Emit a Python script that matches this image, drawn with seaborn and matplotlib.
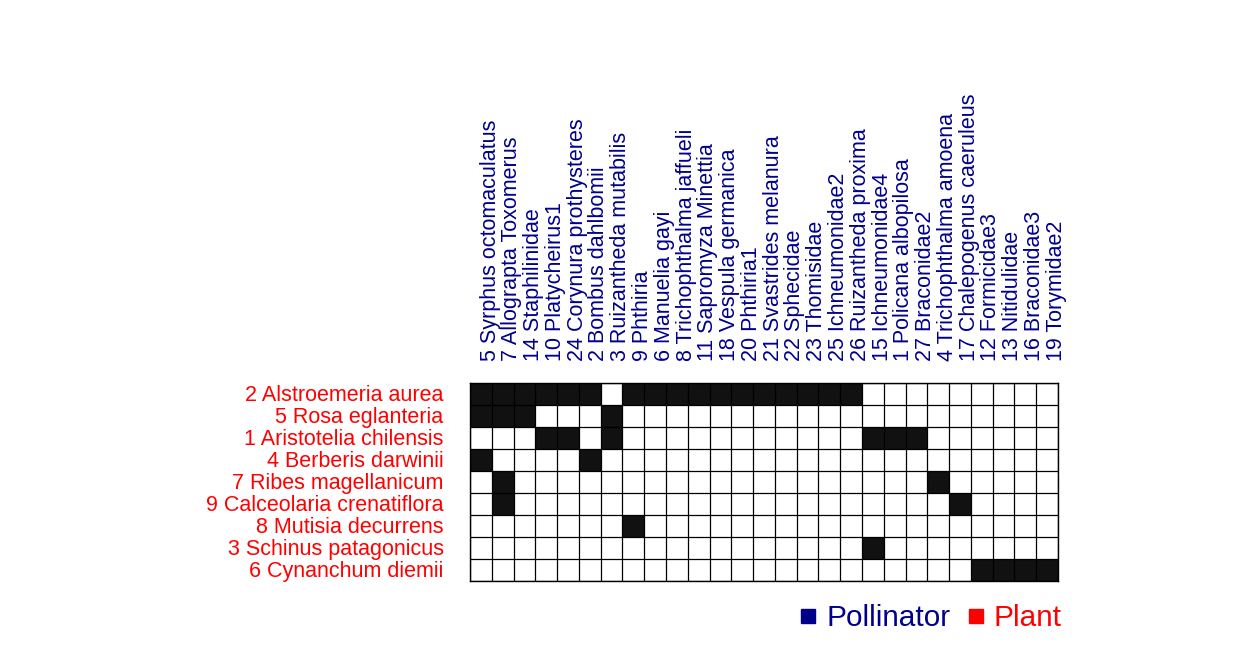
import numpy as np
import pandas as pd
import matplotlib
matplotlib.use("Agg")
import matplotlib.pyplot as plt
import seaborn as sns
from matplotlib.colors import ListedColormap
from matplotlib.lines import Line2D

plants = ["2 Alstroemeria aurea", "5 Rosa eglanteria", "1 Aristotelia chilensis",
          "4 Berberis darwinii", "7 Ribes magellanicum", "9 Calceolaria crenatiflora",
          "8 Mutisia decurrens", "3 Schinus patagonicus", "6 Cynanchum diemii"]

pollinators = ["5 Syrphus octomaculatus", "7 Allograpta Toxomerus", "14 Staphilinidae",
               "10 Platycheirus1", "24 Corynura prothysteres", "2 Bombus dahlbomii",
               "3 Ruizantheda mutabilis", "9 Phthiria", "6 Manuelia gayi",
               "8 Trichophthalma jaffueli", "11 Sapromyza Minettia", "18 Vespula germanica",
               "20 Phthiria1", "21 Svastrides melanura", "22 Sphecidae", "23 Thomisidae",
               "25 Ichneumonidae2", "26 Ruizantheda proxima", "15 Ichneumonidae4",
               "1 Policana albopilosa", "27 Braconidae2", "4 Trichophthalma amoena",
               "17 Chalepogenus caeruleus", "12 Formicidae3", "13 Nitidulidae",
               "16 Braconidae3", "19 Torymidae2"]

# interaction matrix (rows = plants, columns = pollinators)
row_alstroemeria = [1,1,1,1,1,1,0,1,1,1,1,1,1,1,1,1,1,1,0,0,0,0,0,0,0,0,0]
row_rosa         = [1,1,1,0,0,0,1,0,0,0,0,0,0,0,0,0,0,0,0,0,0,0,0,0,0,0,0]
row_aristotelia  = [0,0,0,1,1,0,1,0,0,0,0,0,0,0,0,0,0,0,1,1,1,0,0,0,0,0,0]
row_berberis     = [1,0,0,0,0,1,0,0,0,0,0,0,0,0,0,0,0,0,0,0,0,0,0,0,0,0,0]
row_ribes        = [0,1,0,0,0,0,0,0,0,0,0,0,0,0,0,0,0,0,0,0,0,1,0,0,0,0,0]
row_calceolaria  = [0,1,0,0,0,0,0,0,0,0,0,0,0,0,0,0,0,0,0,0,0,0,1,0,0,0,0]
row_mutisia      = [0,0,0,0,0,0,0,1,0,0,0,0,0,0,0,0,0,0,0,0,0,0,0,0,0,0,0]
row_schinus      = [0,0,0,0,0,0,0,0,0,0,0,0,0,0,0,0,0,0,1,0,0,0,0,0,0,0,0]
row_cynanchum    = [0,0,0,0,0,0,0,0,0,0,0,0,0,0,0,0,0,0,0,0,0,0,0,1,1,1,1]

matrix = pd.DataFrame([row_alstroemeria, row_rosa, row_aristotelia, row_berberis,
                       row_ribes, row_calceolaria, row_mutisia, row_schinus,
                       row_cynanchum], index=plants, columns=pollinators)

sns.set_theme(style="white")
plt.rcParams["font.family"] = ["Liberation Sans", "DejaVu Sans"]

W, H = 1260, 647
fig = plt.figure(figsize=(W / 100, H / 100), dpi=100)
ax = fig.add_axes([470 / W, 1 - 581 / H, (1058 - 470) / W, (581 - 383) / H])

sns.heatmap(matrix, ax=ax, cmap=ListedColormap(["white", "#111111"]), vmin=0, vmax=1,
            cbar=False, linewidths=0, square=False, antialiased=False)

# cell borders: only between/around white cells (black blocks stay solid)
nr, nc = matrix.shape
for i in range(nr + 1):
    ax.axhline(i, color="black", lw=0.9, zorder=3)
for j in range(nc + 1):
    ax.axvline(j, color="black", lw=0.9, zorder=3)

ax.xaxis.tick_top()
ax.set_xticks(np.arange(nc) + 0.92)
ax.set_xticklabels(pollinators, rotation=90, color="#00008B", fontsize=15.5)
ax.set_yticks(np.arange(nr) + 0.55)
ax.set_yticklabels(plants, rotation=0, color="red", fontsize=15.5)
ax.tick_params(axis="x", length=0, pad=16, top=True, bottom=False)
ax.tick_params(axis="y", length=0, pad=19)
ax.set_xlabel("")
ax.set_ylabel("")
for s in ax.spines.values():
    s.set_visible(True)
    s.set_color("black")
    s.set_linewidth(1.0)

handles = [Line2D([], [], marker="s", linestyle="none", color="#00008B", markersize=10),
           Line2D([], [], marker="s", linestyle="none", color="red", markersize=10)]
leg = fig.legend(handles, ["Pollinator", "Plant"], loc="center right",
                 bbox_to_anchor=(1062 / W, 1 - 618 / H), ncol=2, frameon=False,
                 fontsize=21.4, handletextpad=0.2, columnspacing=0.47, handlelength=0.8,
                 borderaxespad=0, borderpad=0)
for t, c in zip(leg.get_texts(), ["#00008B", "red"]):
    t.set_color(c)

fig.savefig("out.png", dpi=100)
